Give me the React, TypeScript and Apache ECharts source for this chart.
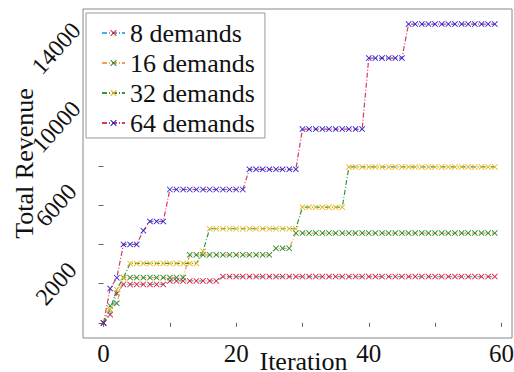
import React, { useEffect, useRef } from "react";
import * as echarts from "echarts";

const iterations = [
  0, 1, 2, 3, 4, 5, 6, 7, 8, 9, 10, 11, 12, 13, 14, 15, 16, 17, 18, 19,
  20, 21, 22, 23, 24, 25, 26, 27, 28, 29, 30, 31, 32, 33, 34, 35, 36, 37, 38, 39,
  40, 41, 42, 43, 44, 45, 46, 47, 48, 49, 50, 51, 52, 53, 54, 55, 56, 57, 58, 59,
];

const demands8 = [
  0, 420, 1500, 1960, 1960, 1960, 1960, 1960, 1960, 1960,
  2140, 2140, 2140, 2140, 2140, 2140, 2140, 2140, 2360, 2360,
  2360, 2360, 2360, 2360, 2360, 2360, 2360, 2360, 2360, 2360,
  2360, 2360, 2360, 2360, 2360, 2360, 2360, 2360, 2360, 2360,
  2360, 2360, 2360, 2360, 2360, 2360, 2360, 2360, 2360, 2360,
  2360, 2360, 2360, 2360, 2360, 2360, 2360, 2360, 2360, 2360,
];

const demands16 = [
  0, 870, 1000, 2310, 2310, 2310, 2310, 2310, 2310, 2310,
  2310, 2310, 2310, 3470, 3470, 3470, 3470, 3470, 3470, 3470,
  3470, 3470, 3470, 3470, 3470, 3470, 3800, 3800, 3800, 4580,
  4580, 4580, 4580, 4580, 4580, 4580, 4580, 4580, 4580, 4580,
  4580, 4580, 4580, 4580, 4580, 4580, 4580, 4580, 4580, 4580,
  4580, 4580, 4580, 4580, 4580, 4580, 4580, 4580, 4580, 4580,
];

const demands32 = [
  0, 700, 1700, 2300, 3030, 3030, 3030, 3030, 3030, 3030,
  3030, 3030, 3030, 3030, 3030, 3650, 4800, 4800, 4800, 4800,
  4800, 4800, 4800, 4800, 4800, 4800, 4800, 4800, 4800, 4800,
  5900, 5900, 5900, 5900, 5900, 5900, 5900, 7950, 7950, 7950,
  7950, 7950, 7950, 7950, 7950, 7950, 7950, 7950, 7950, 7950,
  7950, 7950, 7950, 7950, 7950, 7950, 7950, 7950, 7950, 7950,
];

const demands64 = [
  0, 1750, 2300, 4000, 4000, 4000, 4700, 5170, 5170, 5170,
  6800, 6800, 6800, 6800, 6800, 6800, 6800, 6800, 6800, 6800,
  6800, 6800, 7830, 7830, 7830, 7830, 7830, 7830, 7830, 7830,
  9880, 9880, 9880, 9880, 9880, 9880, 9880, 9880, 9880, 9880,
  13500, 13500, 13500, 13500, 13500, 13500, 15230, 15230, 15230, 15230,
  15230, 15230, 15230, 15230, 15230, 15230, 15230, 15230, 15230, 15230,
];

const seriesNames = ["8 demands", "16 demands", "32 demands", "64 demands"];
const seriesValues = [demands8, demands16, demands32, demands64];
const lineColors = ["#4aaee0", "#f0a050", "#2e9a3e", "#d83a5a"];
const markerColors = ["#e8192c", "#1f8a2e", "#f2b20a", "#2020d8"];

const xTicks = [0, 10, 20, 30, 40, 50, 60];
const xLabels = [0, 20, 40, 60];
const yTicks = [0, 2000, 4000, 6000, 8000, 10000, 12000, 14000];
const yLabels = [2000, 6000, 10000, 14000];

const X_SYMBOL =
  "path://M0,1L1,0L5,4L9,0L10,1L6,5L10,9L9,10L5,6L1,10L0,9L4,5Z";

const FONT = "Liberation Serif";
const TS = (size: number) => ({
  fontFamily: FONT,
  fontSize: size,
  fontStyle: "normal",
  fontWeight: "normal",
  color: "#111111",
});

export default function App() {
  const ref = useRef<HTMLDivElement>(null);
  useEffect(() => {
    if (!ref.current) return;
    const chart = echarts.init(ref.current, null, { renderer: "svg" });
    chart.setOption({
      animation: false,
      backgroundColor: "#ffffff",
      textStyle: TS(24),
      grid: {
        left: 83,
        top: 9,
        right: 2,
        bottom: 34,
        containLabel: false,
        outerBoundsMode: "none",
        show: true,
        borderColor: "#888888",
        borderWidth: 1,
        backgroundColor: "transparent",
      },
      legend: {
        orient: "vertical",
        left: 86,
        top: 13,
        data: seriesNames,
        backgroundColor: "#ffffff",
        borderColor: "#999999",
        borderWidth: 1,
        borderRadius: 0,
        padding: [7, 10, 2, 15],
        itemWidth: 23,
        itemHeight: 8,
        itemGap: 4,
        itemTextGap: 13,
        textStyle: { ...TS(26), lineHeight: 26 },
      },
      xAxis: {
        type: "value",
        min: -3.1,
        max: 61.6,
        name: "Iteration",
        nameLocation: "middle",
        nameGap: 10,
        nameMoveOverlap: false,
        nameTextStyle: { ...TS(26), padding: [0, 0, 0, 12] },
        axisLine: { show: false },
        splitLine: { show: false },
        axisTick: {
          show: true,
          length: 4,
          customValues: xTicks,
          lineStyle: { color: "#666666" },
        },
        axisLabel: {
          ...TS(25),
          customValues: xLabels,
          margin: 3,
          formatter: (v: number) => String(v),
        },
      },
      yAxis: {
        type: "value",
        min: -770,
        max: 16000,
        name: "Total Revenue",
        nameLocation: "middle",
        nameGap: 46,
        nameMoveOverlap: false,
        nameRotate: 90,
        nameTextStyle: { ...TS(26), padding: [0, 0, 0, 20] },
        axisLine: { show: false },
        splitLine: { show: false },
        axisTick: {
          show: true,
          length: 5,
          customValues: yTicks,
          lineStyle: { color: "#666666" },
        },
        axisLabel: {
          ...TS(24),
          customValues: yLabels,
          rotate: 48,
          align: "center",
          verticalAlign: "middle",
          margin: 27,
          formatter: (v: number) => String(v),
        },
      },
      series: seriesNames.map((name, i) => ({
        name,
        type: "line",
        data: iterations.map((x, j) => [x, seriesValues[i][j]]),
        symbol: X_SYMBOL,
        symbolSize: 6,
        showSymbol: true,
        lineStyle: {
          color: lineColors[i],
          width: 1.2,
          type: [5, 2, 1, 2],
        },
        itemStyle: { color: markerColors[i] },
        z: 2 + i,
      })),
    });
    return () => chart.dispose();
  }, []);
  return (
    <div
      ref={ref}
      style={{ position: "fixed", left: 0, top: 0, width: 514, height: 372 }}
    />
  );
}
